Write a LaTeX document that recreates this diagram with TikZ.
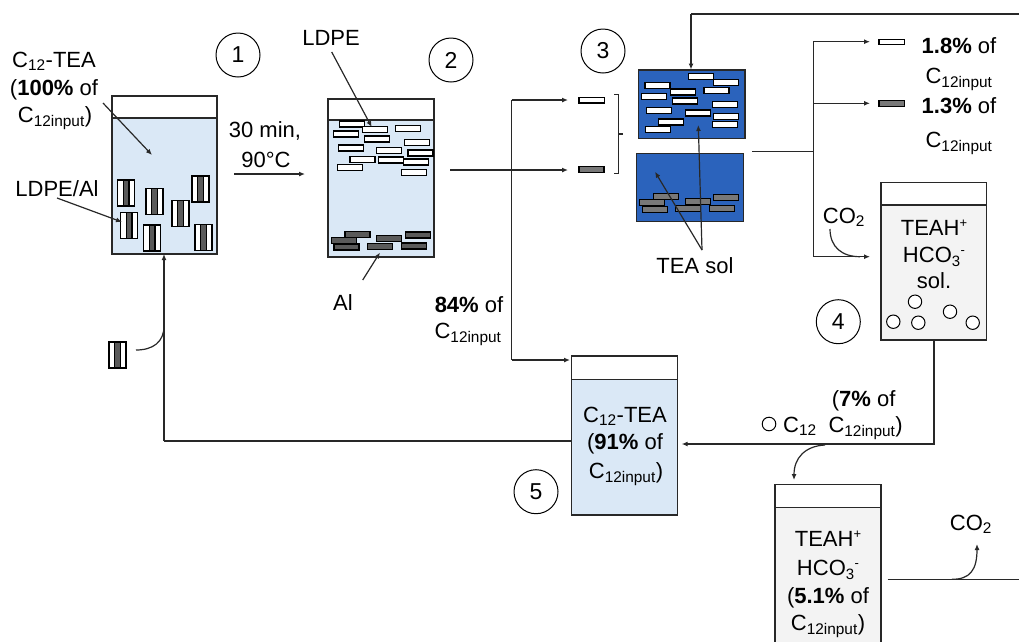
\documentclass[tikz,border=0pt]{standalone}
\usepackage{fontspec}
\setmainfont{Liberation Sans}
\usetikzlibrary{arrows.meta,calc}
\definecolor{lblue}{RGB}{218,232,246}
\definecolor{dblue}{RGB}{43,99,188}
\definecolor{algray}{RGB}{90,90,90}
\definecolor{mgray}{RGB}{120,120,120}
\definecolor{lgray}{RGB}{243,243,243}
\definecolor{ink}{RGB}{40,40,40}
\tikzset{
  vessel/.style={draw=ink, line width=1.4pt},
  conn/.style={draw=ink, line width=1.2pt},
  arr/.style={conn, -{Latex[length=6pt,width=5pt]}},
  lbl/.style={font=\fontsize{22}{27}\selectfont, inner sep=0pt, text=black, anchor=base},
  numc/.style={draw=black, circle, line width=1pt, minimum size=44pt, inner sep=0pt, font=\fontsize{23}{27}\selectfont},
  pe/.style={draw=black, fill=white, line width=1.3pt},
  al/.style={draw=black, fill=algray, line width=1.3pt},
  alm/.style={draw=black, fill=mgray, line width=1.3pt},
  bub/.style={draw=black, fill=white, line width=1pt},
}
\newcommand\hs[3][pe]{\draw[#1] (#2,#3) rectangle ++(25,5.9);}
\newcommand\vs[2]{\draw[pe] (#1,#2) rectangle ++(17,26);\draw[al] ({#1+5.7},#2) rectangle ++(5.7,26);}
\newcommand\smallsup[1]{\raisebox{7.5pt}{\fontsize{13}{13}\selectfont #1}}
\newcommand\HCO{HCO\raisebox{-4.5pt}{\fontsize{15}{15}\selectfont 3}\hspace{0.5pt}\smallsup{-}}
\begin{document}
\begin{tikzpicture}[x=1pt,y=-1pt]
\useasboundingbox (0,0) rectangle (1019,641);

% ---------- beaker 1
\fill[lblue] (112,118) rectangle (217,254);
\draw[vessel] (112,96) rectangle (217,254);
\draw[vessel] (112,118) -- (217,118);
\coordinate (b1in) at (164,254);
\vs{117.7}{180}\vs{146}{188.7}\vs{192}{176}\vs{172}{200.7}
\vs{120.7}{212.7}\vs{143.7}{225}\vs{195}{224.7}

\node[lbl] (t1a) at (54,67) {C\textsubscript{12}-TEA};
\node[lbl] (t1b) at (54,95) {(\textbf{100\%} of};
\node[lbl] (t1c) at (55,122) {C\textsubscript{12input})};
\draw[arr] (103,103) -- (152,155);
\node[lbl] (t1d) at (57,196) {LDPE/Al};
\draw[arr] (57,198) -- (122,222);
\node[numc] (n1) at (238,55) {1};

\node[lbl] (t2a) at (265,137) {30 min,};
\node[lbl] (t2b) at (266,167) {90°C};
\draw[arr] (234,174) -- (305,174);

% ---------- beaker 2
\fill[lblue] (328,120) rectangle (434,257);
\draw[vessel] (328,99) rectangle (434,257);
\draw[vessel] (328,120) -- (434,120);
\hs{339.3}{121}\hs{362.7}{126.7}\hs{395.3}{125.3}\hs{333.3}{131}
\hs{364.3}{136}\hs{404.3}{139.3}\hs{338.3}{145}\hs{376.7}{147.7}
\hs{408}{150}\hs{350}{156.7}\hs{378.3}{157}\hs{403.7}{159}
\hs{337.3}{164.3}\hs{401.7}{169.3}
\hs[al]{345}{231.7}\hs[al]{331.7}{237.3}\hs[al]{334}{244}
\hs[al]{376.7}{235.7}\hs[al]{367.7}{243.7}\hs[al]{405.3}{232}
\hs[al]{401.7}{243}
\node[lbl] (t3a) at (331,45) {LDPE};
\draw[arr] (331.7,52) -- (371.7,127);
\node[lbl] (t3b) at (343,310) {Al};
\draw[arr] (362.7,280) -- (380,252.5);
\node[numc] (n2) at (451,60) {2};

% ---------- separation
\coordinate (jA) at (511.7,170);
\draw[conn] (450,170) -- (jA);
\draw[arr] (jA) -- (568,170);
\draw[arr] (511.7,100) -- (568,100);
\draw[conn] (511.7,100) -- (511.7,360);
\draw[arr] (511.7,360) -- (570,360);
\draw[pe] (579,97.3) rectangle (604.3,103);
\draw[alm] (579,166.7) rectangle (604,172.7);
\draw[line width=1.1pt, draw=ink] (614,94.3) -- (618.3,94.3) -- (618.3,173.3) -- (614,173.3);
\draw[line width=1.1pt, draw=ink] (618.3,134) -- (623.3,134);
\node[lbl] (t4a) at (469,312) {\textbf{84\%} of};
\node[lbl] (t4b) at (468,338) {C\textsubscript{12input}};
\node[numc] (n3) at (603,51) {3};

% ---------- TEA boxes
\draw[vessel, fill=dblue] (638.3,70) rectangle (745,138.3);
\draw[vessel, fill=dblue] (636.7,153.3) rectangle (743.3,221.7);
\hs{688.3}{73.3}\hs{713.3}{79.7}\hs{645}{82.3}\hs{670.7}{89}
\hs{704}{87.7}\hs{641.7}{93.3}\hs{672.7}{98}\hs{712.3}{101.7}
\hs{646.7}{107.3}\hs{685.3}{110}\hs{713.3}{113.3}\hs{658.7}{119}
\hs{712.3}{121.3}\hs{645.7}{126.7}
\hs[alm]{653.3}{193.3}\hs[alm]{639.7}{199.7}\hs[alm]{642.3}{206.7}
\hs[alm]{685.3}{198.3}\hs[alm]{675.7}{205.7}\hs[alm]{713.3}{194.3}
\hs[alm]{709.7}{205.3}
\node[lbl] (t5) at (695,273) {TEA sol};
\coordinate (tsol) at (702,250);
\draw[arr] (tsol) -- (698.3,125);
\draw[arr] (tsol) -- (655,171.7);

% loop line over the top
\draw[conn] (1019,14) -- (691,14);
\draw[arr] (691,14) -- (691,69.5);

% ---------- right split
\draw[conn] (752,151.7) -- (813.3,151.7);
\draw[conn] (813.3,41.7) -- (813.3,256.7);
\draw[arr] (813.3,41.7) -- (870,41.7);
\draw[arr] (813.3,103.3) -- (870,103.3);
\draw[arr] (813.3,256.7) -- (870,256.7);
\draw[pe] (879,39.3) rectangle (904.3,44.8);
\draw[alm] (879,100.7) rectangle (904.3,106.2);
\node[lbl] (t6a) at (959,53) {\textbf{1.8\%} of};
\node[lbl] (t6b) at (959,83) {C\textsubscript{12input}};
\node[lbl] (t6c) at (959,113) {\textbf{1.3\%} of};
\node[lbl] (t6d) at (959,147) {C\textsubscript{12input}};
\node[lbl] (t6e) at (844,223) {CO\textsubscript{2}};
\draw[conn] (830,229) .. controls (830,247) and (842,256.7) .. (860,256.7);

% ---------- beaker 4
\fill[lgray] (881,205) rectangle (986.7,340);
\draw[vessel] (881,182.7) rectangle (986.7,340);
\draw[vessel] (881,205) -- (986.7,205);
\node[lbl] (t7a) at (934,235) {TEAH\smallsup{+}};
\node[lbl] (t7b) at (934,262) {\HCO};
\node[lbl] (t7c) at (934,288) {sol.};
\draw[bub] (915,301.7) circle[radius=6.7];
\draw[bub] (893.3,321.7) circle[radius=6.7];
\draw[bub] (918.3,322.7) circle[radius=6.7];
\draw[bub] (950,311.7) circle[radius=6.7];
\draw[bub] (972.7,322.7) circle[radius=6.7];
\node[numc] (n4) at (838.3,321.7) {4};

% ---------- beaker 4 -> beaker 5
\draw[conn] (934,340) -- (934,444) -- (825,444);
\draw[arr] (825,444) -- (681.7,444);
\draw[arr] (825,445) .. controls (805,446) and (794,458) .. (794,480);
\draw[line width=1pt] (769,424) circle[radius=6.8];
\node[lbl, anchor=base west] (t8a) at (783,432) {C\textsubscript{12}};
\node[lbl, anchor=base west] (t8b) at (831.7,406) {(\textbf{7\%} of};
\node[lbl, anchor=base west] (t8c) at (828.3,432) {C\textsubscript{12input})};

% ---------- beaker 5
\fill[lblue] (571.7,379.3) rectangle (677.7,515);
\draw[vessel] (571.7,356) rectangle (677.7,515);
\draw[vessel] (571.7,379.3) -- (677.7,379.3);
\node[lbl] (t9a) at (625,422) {C\textsubscript{12}-TEA};
\node[lbl] (t9b) at (625,449) {(\textbf{91\%} of};
\node[lbl] (t9c) at (626,478) {C\textsubscript{12input})};
\node[numc] (n5) at (536,491.7) {5};

% ---------- recycle to beaker 1
\draw[conn] (571.7,441) -- (164,441);
\draw[arr] (164,441) -- (b1in);
\vs{109}{342}
\draw[conn] (136,350) .. controls (153,350) and (164,342) .. (164,326);

% ---------- beaker 6
\fill[lgray] (775,507.3) rectangle (881,660);
\draw[vessel] (775,660) -- (775,484.3) -- (881,484.3) -- (881,660);
\draw[vessel] (775,507.3) -- (881,507.3);
\node[lbl] (t10a) at (828,546) {TEAH\smallsup{+}};
\node[lbl] (t10b) at (828,575) {\HCO};
\node[lbl] (t10c) at (828,603) {(\textbf{5.1\%} of};
\node[lbl] (t10d) at (828,630) {C\textsubscript{12input})};
\draw[conn] (887.7,579.3) -- (1019,579.3);
\draw[arr] (952,579.3) .. controls (970,579.3) and (977,570) .. (977,544);
\node[lbl] (t11) at (971,530) {CO\textsubscript{2}};
\end{tikzpicture}
\end{document}
